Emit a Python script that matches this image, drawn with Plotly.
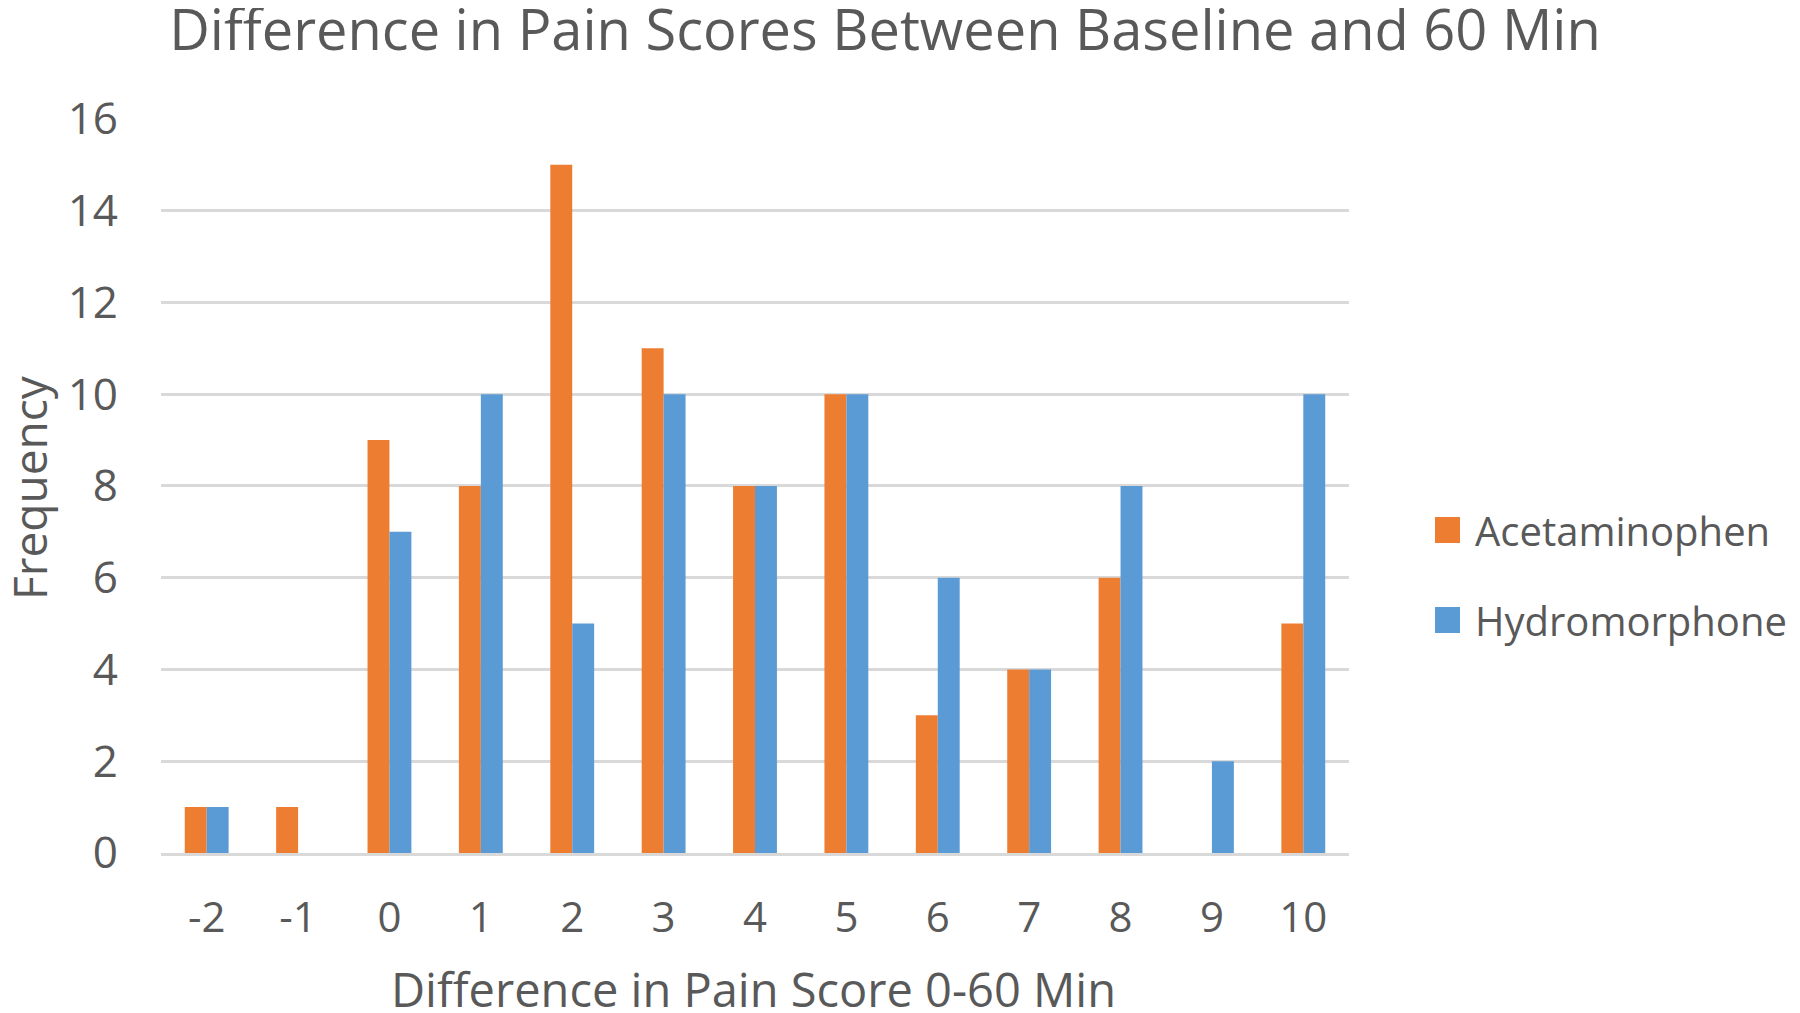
import plotly.graph_objects as go

categories = ["-2", "-1", "0", "1", "2", "3", "4", "5", "6", "7", "8", "9", "10"]
acetaminophen = [1, 1, 9, 8, 15, 11, 8, 10, 3, 4, 6, 0, 5]
hydromorphone = [1, 0, 7, 10, 5, 10, 8, 10, 6, 4, 8, 2, 10]
series_names = ["Acetaminophen", "Hydromorphone"]
y_ticks = [0, 2, 4, 6, 8, 10, 12, 14, 16]

ORANGE = "#ED7D31"
BLUE = "#5B9BD5"
GRID = "#D9D9D9"
TEXT = "#595959"
FONT = "Open Sans"

# page body has an 8px margin, so the figure is drawn 8px smaller
W, H = 1792, 1005
L, R, T, B = 153, 451, 110, 160
pw, ph = W - L - R, H - T - B

fig = go.Figure()
fig.add_trace(go.Bar(x=categories, y=acetaminophen, name=series_names[0],
                     marker=dict(color=ORANGE, line=dict(width=0)), showlegend=False))
fig.add_trace(go.Bar(x=categories, y=hydromorphone, name=series_names[1],
                     marker=dict(color=BLUE, line=dict(width=0)), showlegend=False))

def px_x(px):
    return (px - L) / pw

def px_y(py):
    return (H - B - py) / ph

# custom legend (large squares like the reference)
legend_items = [(series_names[0], ORANGE, 522), (series_names[1], BLUE, 612)]
shapes = []
annotations = []
for name, col, cy in legend_items:
    shapes.append(dict(type="rect", xref="paper", yref="paper",
                       x0=px_x(1427), x1=px_x(1452), y0=px_y(cy + 13), y1=px_y(cy - 13),
                       fillcolor=col, line=dict(width=0)))
    annotations.append(dict(text=name, xref="paper", yref="paper", x=px_x(1465), y=px_y(cy),
                            xanchor="left", yanchor="middle", showarrow=False,
                            font=dict(family=FONT, size=40, color=TEXT)))

# axis titles
annotations.append(dict(text="Difference in Pain Score 0-60 Min", xref="paper", yref="paper",
                        x=px_x(745), y=px_y(981), xanchor="center", yanchor="middle",
                        showarrow=False, font=dict(family=FONT, size=47, color=TEXT)))
annotations.append(dict(text="Frequency", xref="paper", yref="paper", textangle=-90,
                        x=px_x(21), y=px_y(480), xanchor="center", yanchor="middle",
                        showarrow=False, font=dict(family=FONT, size=46, color=TEXT)))

fig.update_layout(
    width=W, height=H,
    margin=dict(l=L, r=R, t=T, b=B, autoexpand=False),
    paper_bgcolor="white", plot_bgcolor="white",
    barmode="group", bargap=0.52, bargroupgap=0,
    title=dict(text="Difference in Pain Scores Between Baseline and 60 Min",
               x=877 / W, xanchor="center", xref="container",
               y=1 - 22 / H, yanchor="middle", yref="container",
               font=dict(family=FONT, size=56, color=TEXT)),
    font=dict(family=FONT, color=TEXT),
    shapes=shapes, annotations=annotations,
    showlegend=False,
)
fig.update_xaxes(type="category", showgrid=False, showline=True, linecolor=GRID, linewidth=3,
                 ticks="", tickfont=dict(family=FONT, size=42, color=TEXT),
                 ticklabelstandoff=26)
fig.update_yaxes(range=[0, 16.02], tickvals=y_ticks, showgrid=True, gridcolor=GRID, gridwidth=3,
                 zeroline=False, showline=False, ticks="",
                 tickfont=dict(family=FONT, size=44, color=TEXT), ticklabelstandoff=42)

fig.write_html("out.html")
